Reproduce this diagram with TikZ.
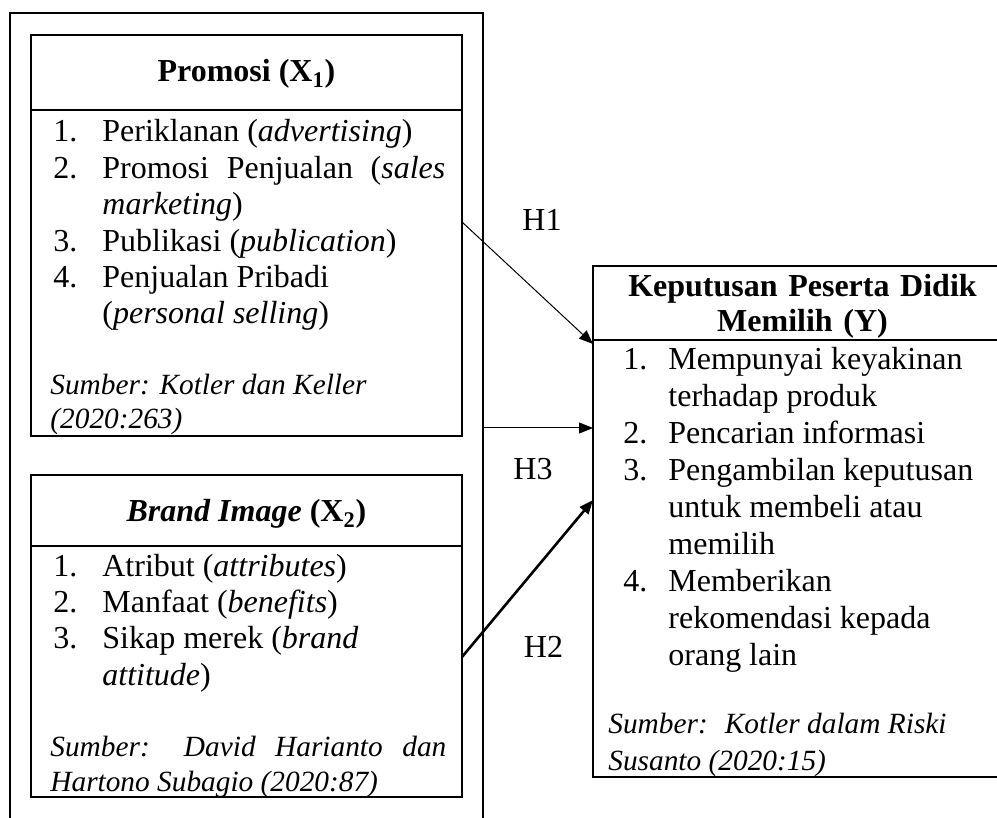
\documentclass[tikz,border=0pt]{standalone}
\usepackage{fontspec}
\setmainfont{Liberation Serif}
\usetikzlibrary{positioning,arrows.meta,calc}

\newcommand{\bodyfont}{\fontsize{16}{18.2}\selectfont}
\newcommand{\srcfont}{\fontsize{14.67}{17}\selectfont\itshape}
\newcommand{\itm}[3][24.5pt]{\noindent\hangindent=#1\hangafter=1\makebox[#1][l]{#2.}#3\par}

\begin{document}
\begin{tikzpicture}[x=0.5pt,y=-0.5pt,
  every node/.style={font=\bodyfont},
  frame/.style={draw, line width=1.1pt, inner sep=0pt, outer sep=0pt},
  varbox/.style={draw, line width=0.75pt, inner sep=0pt, outer sep=0pt},
  varhead/.style={font=\fontsize{16}{17.5}\selectfont\bfseries, inner sep=0pt, anchor=base},
  indlist/.style={anchor=base west, inner sep=0pt, align=justify},
  source/.style={anchor=base west, inner sep=0pt, align=justify, font=\srcfont},
  hyplabel/.style={inner sep=0pt},
  link/.style={-{Triangle[length=7pt,width=5.5pt]}, line width=0.5pt}]
\useasboundingbox (0,0) rectangle (997,818);
\clip (0,0) rectangle (997,818);

% frame round X1 and X2
\node[frame, minimum width=236.5pt, minimum height=413.5pt] (outer) at (246.5,426.5) {};

% X1
\node[varbox, minimum width=215.5pt, minimum height=37.5pt] (promHead) at (246.5,72.5) {};
\node[varbox, minimum width=215.5pt, minimum height=163pt, below=0pt of promHead] (promBody) {};
\node[varhead] (promTitle) at (246.5,82) {Promosi (X\textsubscript{1})};
\node[indlist, text width=196pt] (promList) at (53,142) {%
  \itm{1}{Periklanan (\textit{advertising})}
  \itm{2}{Promosi Penjualan (\textit{sales}\linebreak\textit{marketing})}
  \itm{3}{Publikasi (\textit{publication})}
  \itm{4}{Penjualan Pribadi\newline(\textit{personal selling})}};
\node[source, text width=198pt] (promSrc) at (50,395) {Sumber: Kotler dan Keller\newline(2020:263)};

% X2
\node[varbox, minimum width=215.5pt, minimum height=35.5pt] (brandHead) at (246.5,510.5) {};
\node[varbox, minimum width=215.5pt, minimum height=125.5pt, below=0pt of brandHead] (brandBody) {};
\node[varhead] (brandTitle) at (246.5,522) {\textit{Brand Image} (X\textsubscript{2})};
\node[indlist, text width=196pt] (brandList) at (53,576) {%
  \itm{1}{Atribut (\textit{attributes})}
  \itm{2}{Manfaat (\textit{benefits})}
  \itm{3}{Sikap merek (\textit{brand}\newline\textit{attitude})}};
\node[source, text width=198pt, font=\fontsize{14.67}{17.5}\selectfont\itshape] (brandSrc) at (50,756) {Sumber: David Harianto dan\linebreak Hartono Subagio (2020:87)};

% Y
\node[varbox, minimum width=209.5pt, minimum height=37pt] (yHead) at (802.5,303) {};
\node[varbox, minimum width=209.5pt, minimum height=218.5pt, below=0pt of yHead] (yBody) {};
\node[varhead, text width=200pt, align=center] (yTitle) at (802.5,297) {Keputusan Peserta Didik\\Memilih (Y)};
\node[indlist, text width=185pt, font=\fontsize{16}{18.45}\selectfont] (yList) at (623,370) {%
  \itm[22.5pt]{1}{Mempunyai keyakinan\newline terhadap produk}
  \itm[22.5pt]{2}{Pencarian informasi}
  \itm[22.5pt]{3}{Pengambilan keputusan\newline untuk membeli atau\newline memilih}
  \itm[22.5pt]{4}{Memberikan\newline rekomendasi kepada\newline orang lain}};
\node[source, text width=190pt, font=\fontsize{14.67}{18.5}\selectfont\itshape] (ySrc) at (608,733) {Sumber:~ Kotler dalam Riski\newline Susanto (2020:15)};

% hipotesis
\coordinate (h3tip) at ([yshift=65.25pt]yBody.west);
\draw[link] ([yshift=25.5pt]promBody.east) -- ([yshift=-2pt]yBody.north west);
\draw[link] (outer.east |- h3tip) -- (h3tip);
\draw[link, line width=1.3pt] ([yshift=7.25pt]brandBody.east) -- ([yshift=29.25pt]yBody.west);
\node[hyplabel] (h1) at (542,220) {H1};
\node[hyplabel] (h3) at (533,469) {H3};
\node[hyplabel] (h2) at (543.5,647) {H2};
\end{tikzpicture}
\end{document}
